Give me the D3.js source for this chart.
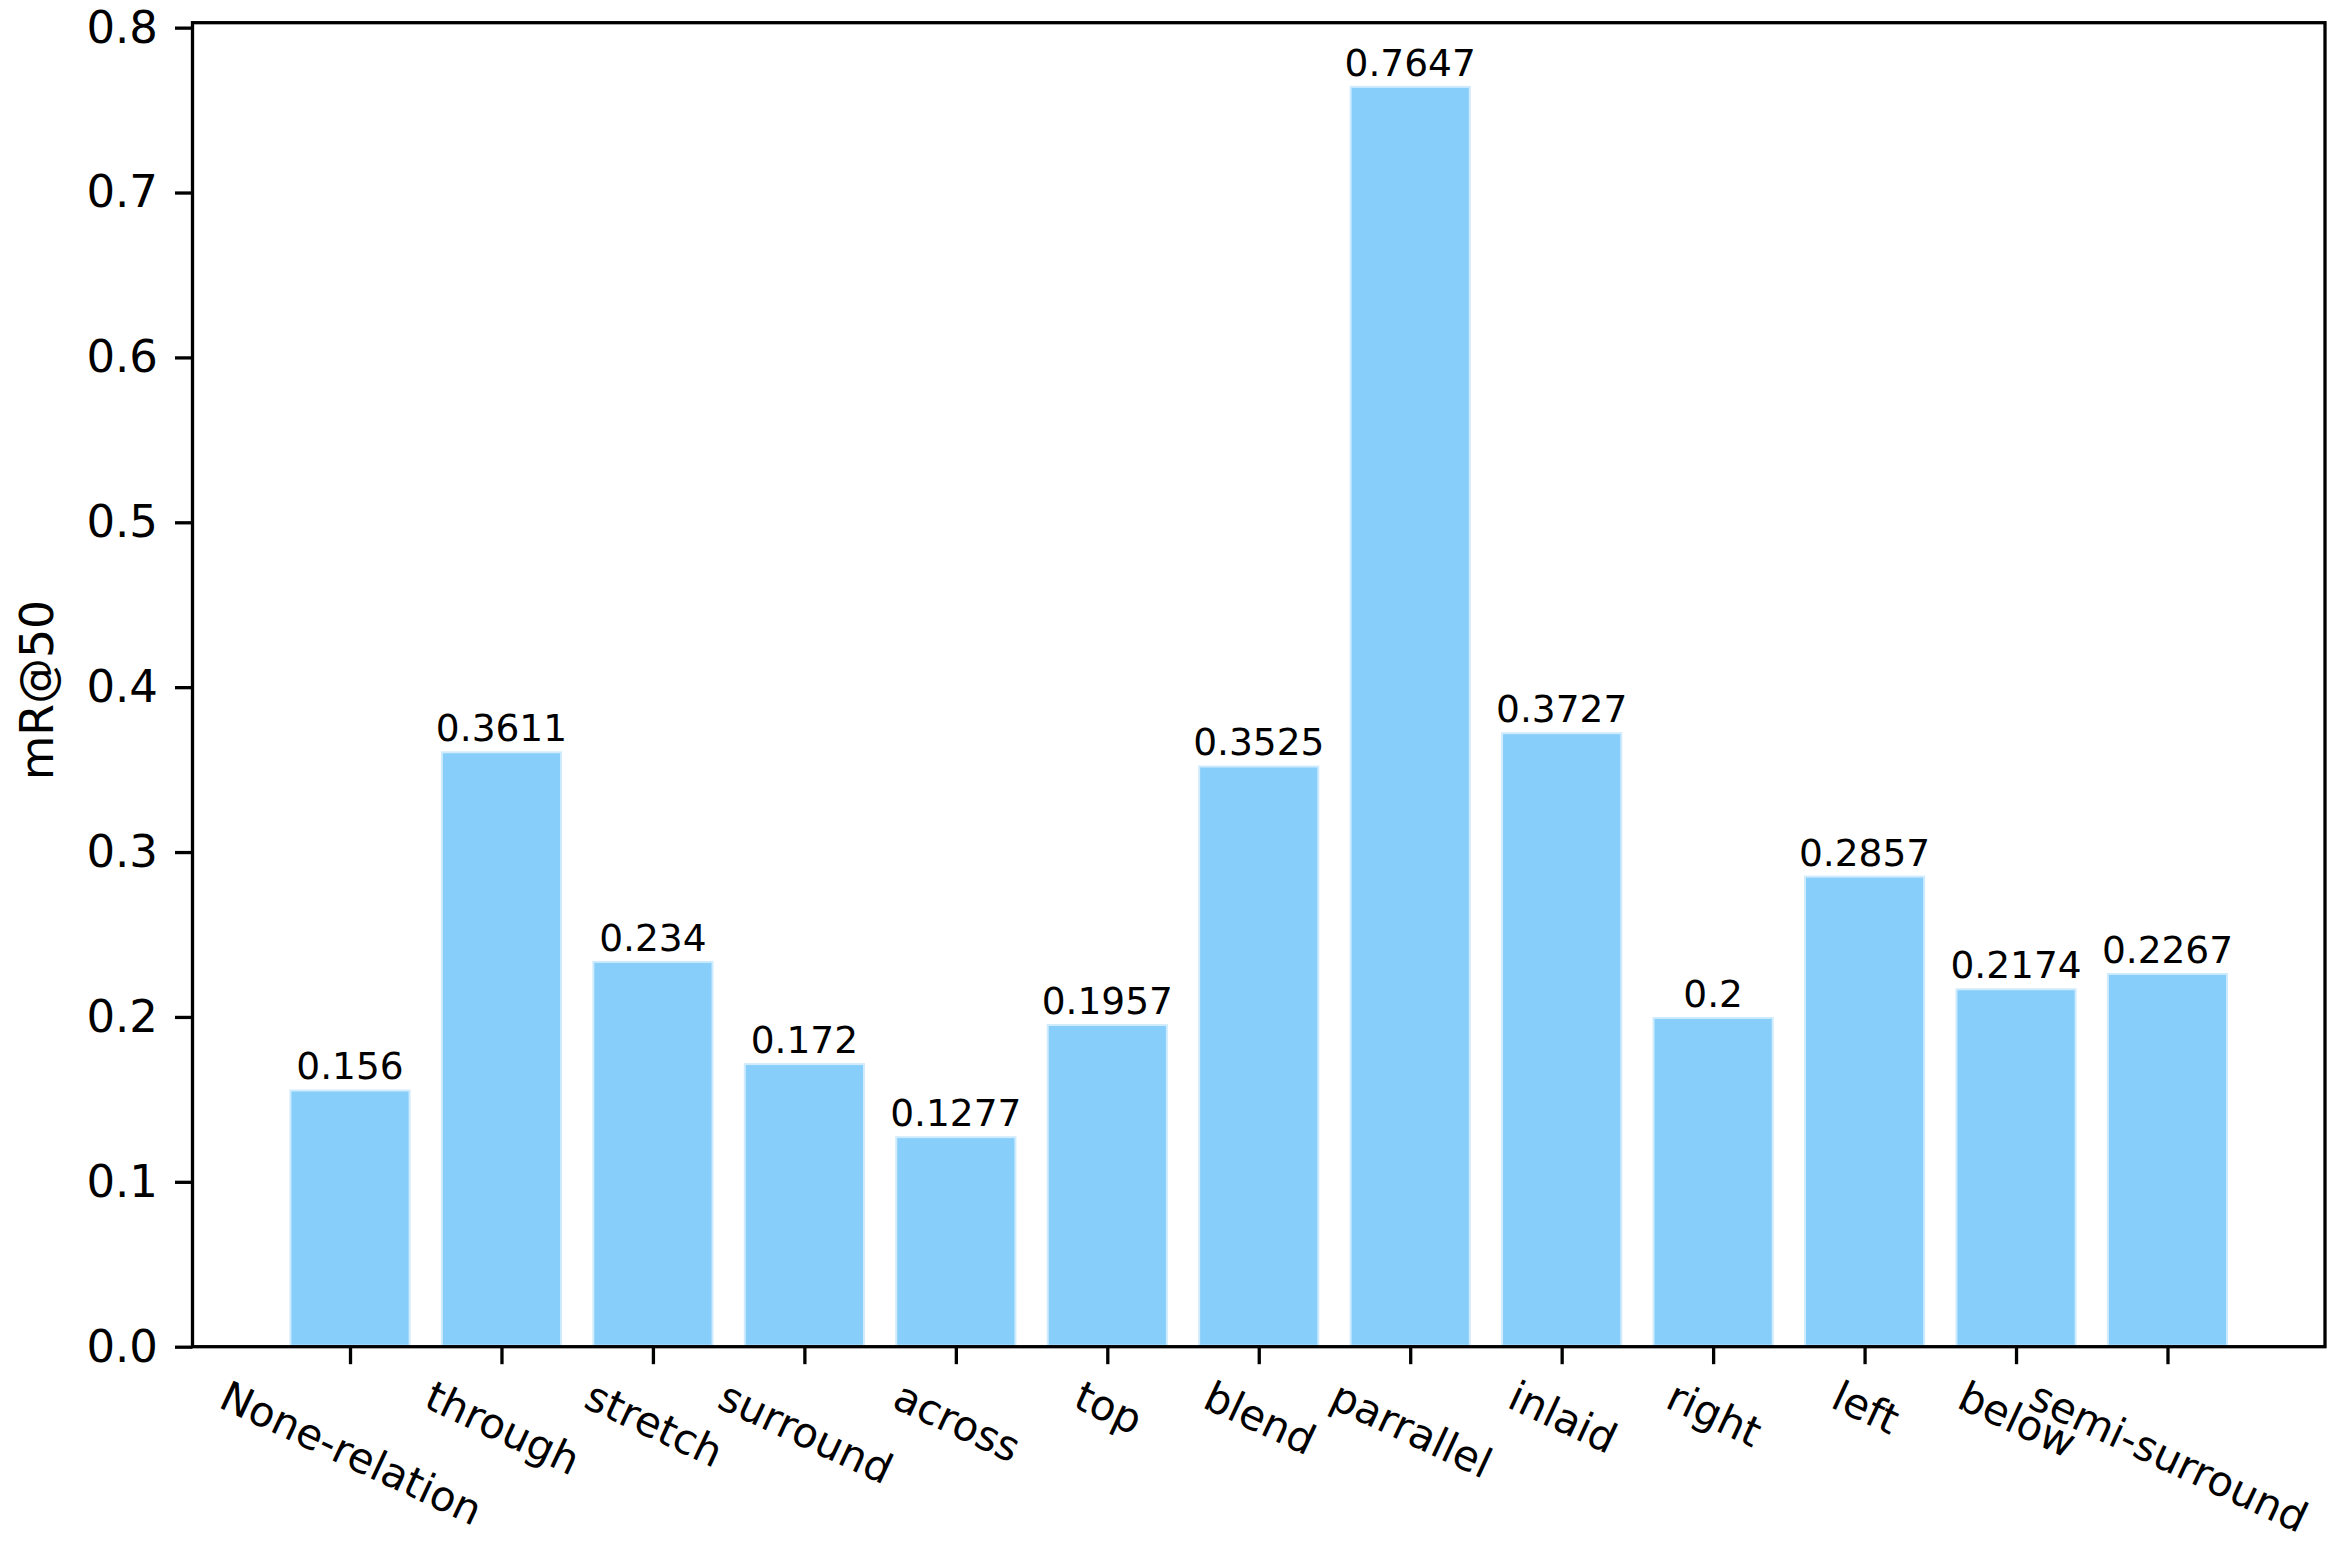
<!DOCTYPE html>
<html>
<head>
<meta charset="utf-8">
<script src="https://cdn.jsdelivr.net/npm/d3@7"></script>
<style>
html,body{margin:0;padding:0;background:#fff;}
svg{display:block;}
text{font-family:"DejaVu Sans",sans-serif;fill:#000;}
</style>
</head>
<body>
<svg id="chart" width="2336" height="1551"></svg>
<script>
const categories = ["None-relation","through","stretch","surround","across","top","blend","parrallel","inlaid","right","left","below","semi-surround"];
const values = [0.156,0.3611,0.234,0.172,0.1277,0.1957,0.3525,0.7647,0.3727,0.2,0.2857,0.2174,0.2267];
const valueLabels = ["0.156","0.3611","0.234","0.172","0.1277","0.1957","0.3525","0.7647","0.3727","0.2","0.2857","0.2174","0.2267"];
const yTicks = [0.0,0.1,0.2,0.3,0.4,0.5,0.6,0.7,0.8];
const yLabel = "mR@50";

(function(){
const plotL = 192.5, plotR = 2325, plotT = 22.7, plotB = 1346.7;
const svg = d3.select("#chart");

const x = d3.scaleLinear().domain([-1.04, categories.length - 1 + 1.04]).range([plotL, plotR]);
const y = d3.scaleLinear().domain([0, 0.803]).range([plotB, plotT]);
const barW = 0.8;

// bars
svg.append("g").selectAll("rect").data(values).join("rect")
  .attr("x", (d,i) => x(i - barW/2))
  .attr("width", x(barW) - x(0))
  .attr("y", d => y(d))
  .attr("height", d => y(0) - y(d))
  .attr("fill", "#87CEFA")
  .attr("stroke", "#ffffff")
  .attr("stroke-opacity", 0.6)
  .attr("stroke-width", 4);

// value labels
svg.append("g").selectAll("text").data(values).join("text")
  .attr("x", (d,i) => x(i))
  .attr("y", d => y(d) - 10)
  .attr("text-anchor", "middle")
  .attr("font-size", 37.5)
  .text((d,i) => valueLabels[i]);

const tickLen = 17.5, fs = 41.7, yfs = 45;

// y axis
const yAxis = d3.axisLeft(y).tickValues(yTicks).tickFormat(d3.format(".1f")).tickSize(tickLen).tickPadding(17);
const gy = svg.append("g").attr("transform", `translate(${plotL},0)`).call(yAxis);
gy.select(".domain").remove();
gy.selectAll(".tick line").attr("stroke", "#000").attr("stroke-width", 3.3);
gy.selectAll(".tick text").attr("font-size", yfs).attr("font-family", "DejaVu Sans").attr("fill", "#000");

// x axis ticks
const xAxis = d3.axisBottom(x).tickValues(d3.range(categories.length)).tickFormat("").tickSize(tickLen);
const gx = svg.append("g").attr("transform", `translate(0,${plotB})`).call(xAxis);
gx.select(".domain").remove();
gx.selectAll(".tick line").attr("stroke", "#000").attr("stroke-width", 3.3);

// rotated x tick labels (matplotlib-like rotation=-25, ha=center)
const theta = 25 * Math.PI / 180;
const asc = 0.76 * fs, desc = 0.208 * fs;
const ytop = plotB + 14.6 + 14.6 + 2;
const lg = svg.append("g");
categories.forEach((c, i) => {
  const t = lg.append("text").attr("font-size", fs).attr("text-anchor", "middle").text(c);
  const w = t.node().getComputedTextLength();
  const X = x(i) - (asc - desc) * Math.sin(theta) / 2;
  const Y = ytop + (w / 2) * Math.sin(theta) + asc * Math.cos(theta);
  t.attr("transform", `translate(${X},${Y}) rotate(25)`);
});

// frame (spines)
svg.append("rect")
  .attr("x", plotL).attr("y", plotT)
  .attr("width", plotR - plotL).attr("height", plotB - plotT)
  .attr("fill", "none").attr("stroke", "#000").attr("stroke-width", 3.3);

// y label
svg.append("text")
  .attr("transform", `translate(53,690) rotate(-90)`)
  .attr("text-anchor", "middle")
  .attr("font-size", 45.8)
  .text(yLabel);
})();
</script>
</body>
</html>
